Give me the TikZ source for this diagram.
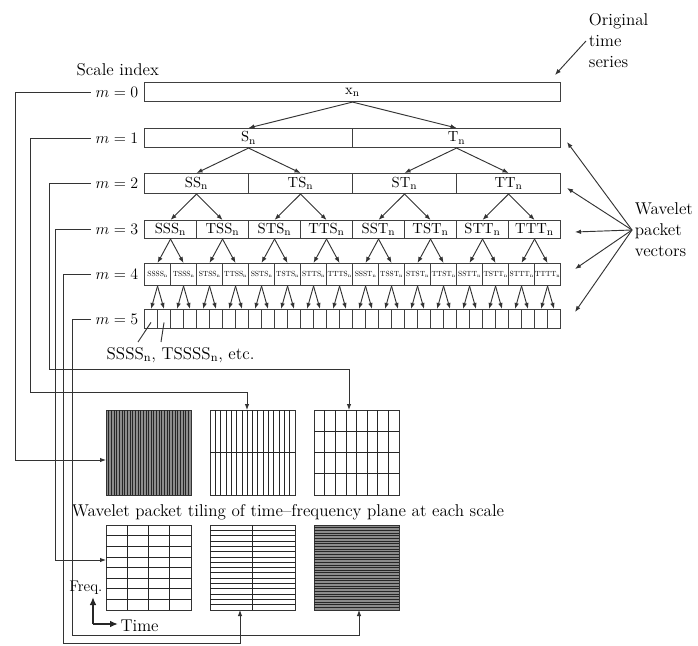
\documentclass[tikz,border=0pt]{standalone}
\usepackage{graphicx}
\usetikzlibrary{arrows.meta,calc}
\begin{document}
\begin{tikzpicture}[x=0.75pt,y=-0.75pt,
  ln/.style={draw=black!80,line width=0.7pt},
  arr/.style={ln,-{Latex[length=4.5pt,width=3.4pt]}},
  axarr/.style={draw=black!85,line width=1.3pt,-{Latex[length=6pt,width=5pt]}},
  cell/.style={draw=black!75,line width=0.8pt,inner sep=0pt,anchor=north west},
  txt/.style={font=\fontsize{12.8}{15.75}\selectfont},
  tile/.style={draw=black!80,line width=0.8pt,inner sep=0pt,anchor=north west,minimum width=63.75pt,minimum height=63.75pt},
  tl/.style={draw=black!85,line width=0.5pt}]
\useasboundingbox (0,0) rectangle (698,645);

% ---- packet rows m = 0..3
\foreach \m/\top/\h/\names in {0/82/19/{x},1/128/19/{S,T},2/173/20/{SS,TS,ST,TT},3/220/18/{SSS,TSS,STS,TTS,SST,TST,STT,TTT}} {
  \pgfmathsetmacro\w{416/2^\m}
  \foreach \nm [count=\i] in \names {
    \node[cell,minimum width=\w*0.75pt,minimum height=\h*0.75pt,font=\fontsize{11}{11}\selectfont] (c\m-\i) at ({144+(\i-1)*\w},\top) {$\mathrm{\nm}_{\mathrm{n}}$};
  }
}
% ---- row m = 4
\foreach \nm [count=\i] in {SSSS,TSSS,STSS,TTSS,SSTS,TSTS,STTS,TTTS,SSST,TSST,STST,TTST,SSTT,TSTT,STTT,TTTT} {
  \node[cell,minimum width=19.5pt,minimum height=16.5pt] (c4-\i) at ({144+(\i-1)*26},263) {};
  \node[inner sep=0pt,font=\fontsize{10}{10}\selectfont] (n4-\i) at (c4-\i.center) {\scalebox{0.56}{$\mathrm{\nm}_{\mathrm{n}}$}};
}
% ---- row m = 5
\foreach \i in {1,...,32}
  \node[cell,minimum width=9.75pt,minimum height=14.25pt] (c5-\i) at ({144+(\i-1)*13},309) {};

% ---- tree arrows
\foreach \m in {0,...,4} {
  \pgfmathtruncatemacro\N{2^\m}
  \pgfmathtruncatemacro\mm{\m+1}
  \foreach \i in {1,...,\N} {
    \pgfmathtruncatemacro\a{2*\i-1}
    \pgfmathtruncatemacro\b{2*\i}
    \draw[arr] (c\m-\i.south) -- (c\mm-\a.north);
    \draw[arr] (c\m-\i.south) -- (c\mm-\b.north);
  }
}

% ---- scale labels
\node[txt,anchor=west] (si) at (72,70) {Scale index};
\foreach \m/\y in {0/92,1/138,2/183.5,3/229,4/274,5/319}
  \node[txt,anchor=east] (l\m) at (143,\y) {$m = \m$};

% ---- original time series
\node[txt,anchor=west,align=left,inner sep=2pt] (ots) at (586,41) {Original\\time\\series};
\coordinate (o1) at (555,75);
\draw[arr] (ots.west) -- (o1);

% ---- wavelet packet vectors
\node[txt,anchor=west,align=left,inner sep=2pt] (wpv) at (632,230) {Wavelet\\packet\\vectors};
\coordinate (v1) at (567,142);
\coordinate (v2) at (567,188);
\coordinate (v3) at (575,232);
\coordinate (v4) at (575,269);
\coordinate (v5) at (575,312);
\foreach \v in {v1,v2,v3,v4,v5} \draw[arr] (wpv.west) -- (\v);

% ---- SSSS label
\node[txt,anchor=west] (ss) at (102,355) {SSSS$_{\mathrm{n}}$, TSSSS$_{\mathrm{n}}$, etc.};
\coordinate (p1) at (138,342);
\coordinate (p2) at (161,342);
\draw[ln] ([yshift=-2.5pt]c5-1.center) -- (p1);
\draw[ln] ([yshift=-2.5pt]c5-2.center) -- (p2);

% ---- tilings
\node[tile,fill=black!45] (t0) at (106,410) {};
\node[tile] (t1) at (210,410) {};
\node[tile] (t2) at (314,410) {};
\node[tile] (t3) at (106,525) {};
\node[tile] (t4) at (210,525) {};
\node[tile,fill=black!45] (t5) at (314,525) {};
\foreach \k in {1,...,31} {
  \draw[tl] ({106+\k*85/32},410) -- ++(0,85);
  \draw[tl] (314,{525+\k*85/32}) -- ++(85,0);
}
\foreach \k in {1,...,15} {
  \draw[tl] ({210+\k*85/16},410) -- ++(0,85);
  \draw[tl] (210,{525+\k*85/16}) -- ++(85,0);
}
\draw[tl] (210,452.5) -- ++(85,0);
\draw[tl] (252.5,525) -- ++(0,85);
\foreach \k in {1,...,7} {
  \draw[tl] ({314+\k*85/8},410) -- ++(0,85);
  \draw[tl] (106,{525+\k*85/8}) -- ++(85,0);
}
\foreach \k in {1,2,3} {
  \draw[tl] (314,{410+\k*85/4}) -- ++(85,0);
  \draw[tl] ({106+\k*85/4},525) -- ++(0,85);
}

\node[txt] (cap) at (288,512) {Wavelet packet tiling of time--frequency plane at each scale};

% ---- connectors from scale labels to tilings
\coordinate (k0) at (15,460);
\draw[arr] (l0.west) -| (k0) -- (k0 -| t0.west);
\coordinate (k1) at (30,392);
\coordinate (e1) at (247,410);
\draw[arr] (l1.west) -| (k1) -| (e1);
\coordinate (k2) at (49,369);
\coordinate (e2) at (349,410);
\draw[arr] (l2.west) -| (k2) -| (e2);
\coordinate (k3) at (55,560);
\draw[arr] (l3.west) -| (k3) -- (k3 -| t3.west);
\coordinate (k4) at (63,643);
\coordinate (e4) at (240,610);
\draw[arr] (l4.west) -| (k4) -| (e4);
\coordinate (k5) at (72,635);
\coordinate (e5) at (359,610);
\draw[arr] (l5.west) -| (k5) -| (e5);

% ---- axes
\node[txt,anchor=east,inner sep=1pt,font=\fontsize{11.5}{14}\selectfont] (fq) at (104,588) {Freq.};
\node[txt,anchor=west,inner sep=1pt] (tm) at (119,626) {Time};
\coordinate (ax) at (93,624);
\coordinate (ay) at (93,597);
\coordinate (axx) at (118,624);
\draw[axarr] (ax) -- (ay);
\draw[axarr] (ax) -- (axx);
\end{tikzpicture}
\end{document}
